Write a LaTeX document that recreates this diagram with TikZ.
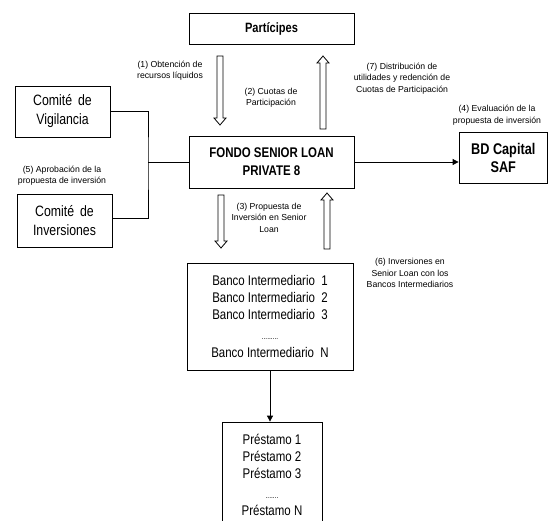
\documentclass[tikz,border=0pt]{standalone}
\usepackage{fontspec}
\setmainfont{Liberation Sans}
\newfontfamily\narrowfont[FakeStretch=0.82]{Liberation Sans}
\usetikzlibrary{arrows.meta}
\newcommand{\hdown}[3]{\draw[harrow] (#1-3,#2) -- (#1+3,#2) -- (#1+3,#3-7) -- (#1+6,#3-7) -- (#1,#3) -- (#1-6,#3-7) -- (#1-3,#3-7) -- cycle;}
\newcommand{\hup}[3]{\draw[harrow] (#1-3,#3) -- (#1+3,#3) -- (#1+3,#2+7) -- (#1+6,#2+7) -- (#1,#2) -- (#1-6,#2+7) -- (#1-3,#2+7) -- cycle;}
\begin{document}
\begin{tikzpicture}[x=1pt,y=-1pt,line width=0.8pt,
  box/.style={draw, inner sep=0pt, align=center, font=\narrowfont\fontsize{14}{17}\selectfont},
  bbox/.style={box, font=\narrowfont\bfseries\fontsize{14}{18}\selectfont},
  lbl/.style={align=center, inner sep=0pt, font=\fontsize{8.7}{11.5}\selectfont},
  tip/.style={-{Triangle[length=6pt,width=6pt]}},
  harrow/.style={draw, fill=white, line width=0.8pt}]
\useasboundingbox (0,0) rectangle (548,520);
\clip (0,0) rectangle (548,520);

% boxes
\node[bbox, minimum width=165pt, minimum height=31pt, font=\narrowfont\bfseries\fontsize{13.5}{16}\selectfont] (part) at (271.5,28.5) {Partícipes};
\node[bbox, minimum width=165pt, minimum height=52pt] (fondo) at (271.5,162) {FONDO SENIOR LOAN\\PRIVATE 8};
\node[bbox, minimum width=88.5pt, minimum height=51pt, font=\narrowfont\bfseries\fontsize{15.5}{18}\selectfont] (bd) at (503.25,157.5) {BD Capital\\SAF};
\node[box, minimum width=95pt, minimum height=51pt, font=\narrowfont\fontsize{15}{19}\selectfont] (vig) at (62.5,111.5) {Comité\, de\\Vigilancia};
\node[box, minimum width=95pt, minimum height=53pt, font=\narrowfont\fontsize{15}{19}\selectfont] (inv) at (64.5,220.5) {Comité\, de\\Inversiones};
\node[box, minimum width=166pt, minimum height=107pt] (banco) at (270,316.5)
  {Banco Intermediario\ \ 1\\Banco Intermediario\ \ 2\\Banco Intermediario\ \ 3\\[3pt]
   {\fontsize{8}{8}\selectfont .........}\\[1pt]Banco Intermediario\ \ N};
\node[box, minimum width=100pt, minimum height=105pt] (prest) at (272,474.5)
  {Préstamo 1\\Préstamo 2\\Préstamo 3\\[3pt]{\fontsize{8}{8}\selectfont .......}\\[0pt]Préstamo N};

% connectors
\coordinate (j) at (148,162);
\draw (vig.east |- 0,111) -| (j) |- (inv.east |- 0,218);
\draw (j) -- (j -| fondo.west);
\draw[tip] (fondo.east |- 0,162) -- (bd.west |- 0,162);
\draw[tip] (banco.south -| 270,0) -- (prest.north -| 270,0);

% hollow arrows
\hdown{220}{56}{125}
\hup{323}{56}{129}
\hdown{221}{195}{248}
\hup{327}{193}{249}

% labels
\node[lbl] (l1) at (170,70.5) {(1) Obtención de\\recursos líquidos};
\node[lbl] (l2) at (271,97.5) {(2) Cuotas de\\Participación};
\node[lbl] (l7) at (402,78.5) {(7) Distribución de\\utilidades y redención de\\Cuotas de Participación};
\node[lbl] (l4) at (497,115) {(4) Evaluación de la\\propuesta de inversión};
\node[lbl] (l5) at (62,175.5) {(5) Aprobación de la\\propuesta de inversión};
\node[lbl] (l3) at (269,217.5) {(3) Propuesta de\\Inversión en Senior\\Loan};
\node[lbl] (l6) at (410,273) {(6) Inversiones en\\Senior Loan con los\\Bancos Intermediarios};
\end{tikzpicture}
\end{document}
